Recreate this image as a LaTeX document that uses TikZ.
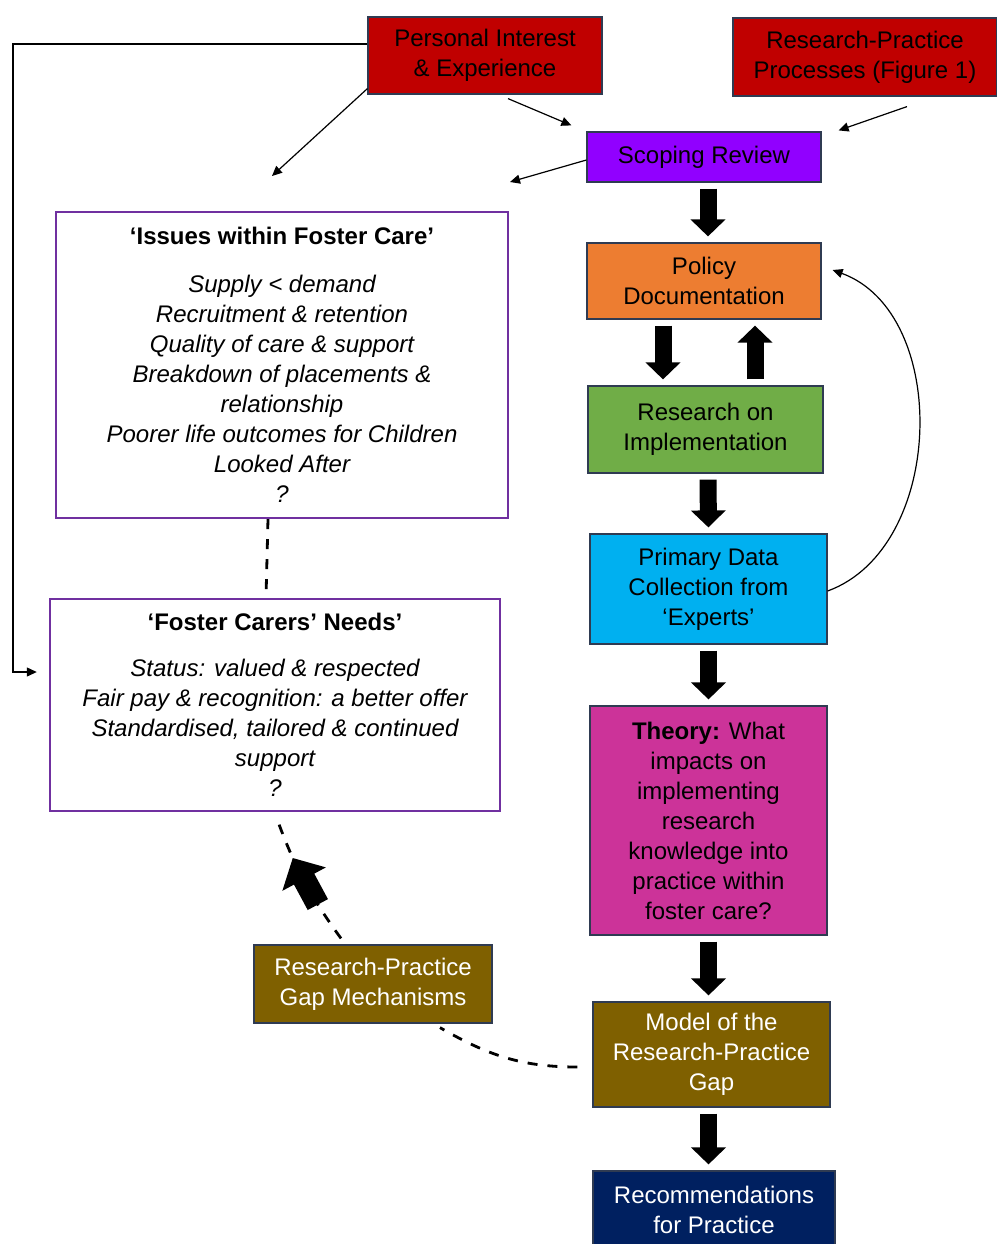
\documentclass[tikz,border=0pt]{standalone}
\usepackage{fontspec}
\setmainfont{Liberation Sans}
\usepackage{tikz}
\usetikzlibrary{arrows.meta,positioning,calc}
\definecolor{boxred}{HTML}{C00000}
\definecolor{boxviolet}{HTML}{9100FF}
\definecolor{boxorange}{HTML}{ED7D31}
\definecolor{boxgreen}{HTML}{70AD47}
\definecolor{boxcyan}{HTML}{00B0F0}
\definecolor{boxpink}{HTML}{CC3399}
\definecolor{boxbrown}{HTML}{7F6000}
\definecolor{boxnavy}{HTML}{002060}
\definecolor{framepurple}{HTML}{7030A0}
\definecolor{edgeslate}{HTML}{2F3B52}

\begin{document}
\begin{tikzpicture}[
  x=0.5pt, y=-0.5pt,
  stagebox/.style={draw=edgeslate, line width=0.6pt, inner sep=0pt, align=center,
                   font=\fontsize{12}{15}\selectfont},
  darkbox/.style={stagebox, text=white},
  themebox/.style={draw=framepurple, line width=1.2pt, fill=white, inner sep=0pt,
                   align=center, font=\fontsize{12}{15}\selectfont\itshape},
  thinarr/.style={-{Triangle[length=5pt,width=4.5pt]}, line width=0.6pt},
  blk/.style={-{Triangle[length=8.5pt,width=17pt]}, line width=8.5pt,
              shorten <=3pt, shorten >=3pt},
  bigblk/.style={-{Triangle[length=12pt,width=24pt]}, line width=11.5pt},
  linkdash/.style={line width=1.4pt, dash pattern=on 5pt off 5pt}
]
\useasboundingbox (0,0) rectangle (997,1244);

\node[stagebox, fill=boxred, minimum width=117pt, minimum height=38.5pt] (pie) at (485,55.5)
  {Personal Interest\\\& Experience};
\node[stagebox, fill=boxred, minimum width=132pt, minimum height=39pt] (rpp) at (865,57)
  {Research-Practice\\Processes (Figure 1)};
\node[stagebox, fill=boxviolet, minimum width=117pt, minimum height=25pt] (scope) at (704,157)
  {Scoping Review};
\node[stagebox, fill=boxorange, minimum width=117pt, minimum height=38pt] (policy) at (704,281)
  {Policy\\Documentation};
\node[stagebox, fill=boxgreen, minimum width=117.5pt, minimum height=43.5pt] (rimpl) at (705.5,429.5)
  {Research on\\Implementation};
\node[stagebox, fill=boxcyan, minimum width=118.5pt, minimum height=55pt] (primary) at (708.5,589)
  {Primary Data\\Collection from\\‘Experts’};
\node[stagebox, fill=boxpink, minimum width=118.5pt, minimum height=114.5pt] (theory) at (708.5,820.5)
  {\textbf{Theory:} What\\impacts on\\implementing\\research\\knowledge into\\practice within\\foster care?};
\node[darkbox, fill=boxbrown, minimum width=118.5pt, minimum height=52.5pt] (model) at (711.5,1054.5)
  {Model of the\\Research-Practice\\Gap};
\node[darkbox, fill=boxnavy, minimum width=121pt, minimum height=38.5pt] (recs) at (714,1209.5)
  {Recommendations\\for Practice};
\node[darkbox, fill=boxbrown, minimum width=119pt, minimum height=39pt] (gapmech) at (373,984)
  {Research-Practice\\Gap Mechanisms};

\node[themebox, minimum width=226pt, minimum height=153pt] (issues) at (282,365)
  {{\upshape\bfseries ‘Issues within Foster Care’}\\[9pt]
   Supply < demand\\Recruitment \& retention\\Quality of care \& support\\
   Breakdown of placements \&\\relationship\\Poorer life outcomes for Children\\
   Looked After\\?};
\node[themebox, minimum width=225pt, minimum height=106pt] (needs) at (275,705)
  {{\upshape\bfseries ‘Foster Carers’ Needs’}\\[8pt]
   Status: valued \& respected\\Fair pay \& recognition: a better offer\\
   Standardised, tailored \& continued\\support\\?};

\coordinate (issuesin) at (272,176);
\coordinate (issuesin2) at (510,182);
\coordinate (leftturn) at (13,44);

\draw[thinarr] ([yshift=5.75pt]pie.west) -- (leftturn) |- ([xshift=-6pt,yshift=16.5pt]needs.west);
\draw[thinarr] ([yshift=3pt]pie.south west) -- (issuesin);
\draw[thinarr] ([xshift=11.5pt,yshift=-2pt]pie.south) -- ([xshift=-7.5pt,yshift=3pt]scope.north west);
\draw[thinarr] ([xshift=21pt,yshift=-5pt]rpp.south) -- ([xshift=8.5pt,yshift=0.5pt]scope.north east);
\draw[thinarr] ([yshift=-1.5pt]scope.west) -- (issuesin2);
\draw[thinarr] ([yshift=-1pt]primary.east) to[out=20,in=-20] ([xshift=5.5pt,yshift=5.5pt]policy.east);

\draw[blk] ([xshift=2pt]scope.south) -- ([xshift=2pt]policy.north);
\draw[blk] ([xshift=-20.5pt]policy.south) -- ([xshift=-21.25pt]rimpl.north);
\draw[blk] ([xshift=24.75pt]rimpl.north) -- ([xshift=25.5pt]policy.south);
\draw[blk] ([xshift=1.25pt]rimpl.south) -- (primary.north);
\draw[blk] (primary.south) -- (theory.north);
\draw[blk] (theory.south) -- ([xshift=-1.5pt]model.north);
\draw[blk] ([xshift=-1.5pt]model.south) -- ([xshift=-2.75pt]recs.north);

\draw[linkdash] ([xshift=-7pt]issues.south) -- ([xshift=-4.5pt]needs.north);
\draw[linkdash] ([xshift=-7.5pt,yshift=-6.25pt]model.west) to[out=180,in=-30]
  ([xshift=33.5pt,yshift=-2pt]gapmech.south);
\draw[linkdash] ([xshift=-16pt,yshift=3pt]gapmech.north) to[bend left=8]
  coordinate[pos=0.28] (gaptail) coordinate[pos=0.69] (gaptip)
  ([xshift=0.5pt,yshift=-2pt]needs.south);
\draw[bigblk] (gaptail) -- (gaptip);
\end{tikzpicture}
\end{document}
